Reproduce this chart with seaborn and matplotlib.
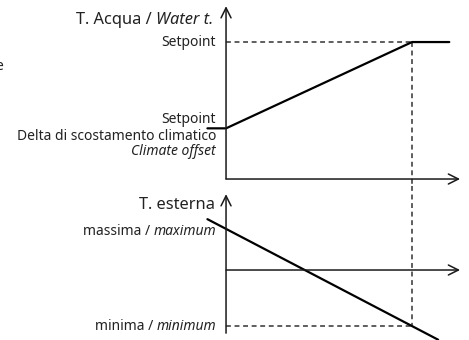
import matplotlib
matplotlib.use("Agg")
import matplotlib.pyplot as plt
import seaborn as sns

sns.set_theme(style="white")
plt.rcParams["font.family"] = ["Noto Sans", "DejaVu Sans"]
plt.rcParams["text.color"] = "#222222"

# Water temperature curve (outdoor position 0 = max outdoor, 1 = min outdoor)
water_x = [-0.1, 0.0, 1.0, 1.2]
water_y = [0.37, 0.37, 1.0, 1.0]          # 1.0 = setpoint, 0.37 = climate offset
# Outdoor temperature line
outdoor_x = [-0.1, 1.14]
outdoor_y = [1.24, -1.70]                  # 1 = maximum, -1.37 = minimum
outdoor_min = -1.37

water_labels = ["Setpoint", "Setpoint", "Delta di scostamento climatico", "Climate offset"]
outdoor_labels = ["massima / ", "maximum", "minima / ", "minimum"]

W, H, DPI = 469, 340, 100
fig = plt.figure(figsize=(W / DPI, H / DPI), dpi=DPI)

# Panels share the same horizontal scale
xlim = (-1.215, 1.306)
ax_top = fig.add_axes([0, (H - 186) / H, 1, 186 / H])
ax_bot = fig.add_axes([0, 0, 1, (H - 186) / H])
ax_top.set_xlim(*xlim); ax_top.set_ylim(-0.051, 1.307)
ax_bot.set_xlim(*xlim); ax_bot.set_ylim(-1.707, 2.049)
for ax in (ax_top, ax_bot):
    ax.set_axis_off()

axis_col = "#1a1a1a"
dash_col = "#333333"
DASH = (0, (3.2, 2.4))
arrow = dict(arrowstyle="->,head_length=0.6,head_width=0.3", lw=1.1, color=axis_col,
             shrinkA=0, shrinkB=0)
LBL = 10
TTL = 11.8
PX = 72 / DPI


def pair_label(ax, y, plain, italic, size, dx, dy=0):
    """Right-aligned label: plain part followed by an italic part."""
    t = ax.annotate(italic, xy=(0, y), xytext=(dx, dy), textcoords="offset points",
                    ha="right", va="center", fontsize=size, style="italic")
    ax.annotate(plain, xy=(0, 0.5), xycoords=t, ha="right", va="center", fontsize=size)
    return t


# --- top panel: water temperature ---
ax_top.annotate("", xy=(0, 1.262), xytext=(0, 0), arrowprops=arrow)
ax_top.annotate("", xy=(1.258, 0), xytext=(0, 0), arrowprops=arrow)
ax_top.plot([0, 1], [1, 1], ls=DASH, lw=1.1, color=dash_col)
ax_top.plot([1, 1], [1, -0.051], ls=DASH, lw=1.1, color=dash_col)
sns.lineplot(x=water_x, y=water_y, ax=ax_top, color="black", lw=1.6,
             sort=False, estimator=None)

off = -10 * PX
pair_label(ax_top, 1.16, "T. Acqua / ", "Water t.", TTL, -13 * PX, 0)
ax_top.annotate(water_labels[0], xy=(0, 1.0), xytext=(off, 0), textcoords="offset points",
                ha="right", va="center", fontsize=LBL)
ax_top.annotate(water_labels[1], xy=(0, 0.37), xytext=(off, 6.5), textcoords="offset points",
                ha="right", va="center", fontsize=LBL)
ax_top.annotate(water_labels[2], xy=(0, 0.37), xytext=(off, -6), textcoords="offset points",
                ha="right", va="center", fontsize=LBL)
ax_top.annotate(water_labels[3], xy=(0, 0.37), xytext=(off, -17), textcoords="offset points",
                ha="right", va="center", fontsize=LBL, style="italic")

# --- bottom panel: outdoor temperature ---
ax_bot.annotate("", xy=(0, 1.85), xytext=(0, -1.54), arrowprops=arrow)
ax_bot.annotate("", xy=(1.258, 0), xytext=(0, 0), arrowprops=arrow)
ax_bot.plot([0, 1], [outdoor_min, outdoor_min], ls=DASH, lw=1.1, color=dash_col)
ax_bot.plot([1, 1], [2.049, outdoor_min], ls=DASH, lw=1.1, color=dash_col)
sns.lineplot(x=outdoor_x, y=outdoor_y, ax=ax_bot, color="black", lw=1.6,
             sort=False, estimator=None)

ax_bot.annotate("T. esterna", xy=(0, 1.59), xytext=(-11 * PX, 0),
                textcoords="offset points", ha="right", va="center", fontsize=TTL)
pair_label(ax_bot, 0.95, outdoor_labels[0], outdoor_labels[1], LBL, off, 0)
pair_label(ax_bot, outdoor_min, outdoor_labels[2], outdoor_labels[3], LBL, off, 0)

fig.text(3.5 / W, 1 - 66 / H, "e", ha="right", va="center", fontsize=LBL)

fig.savefig("out.png", dpi=DPI, facecolor="white")
